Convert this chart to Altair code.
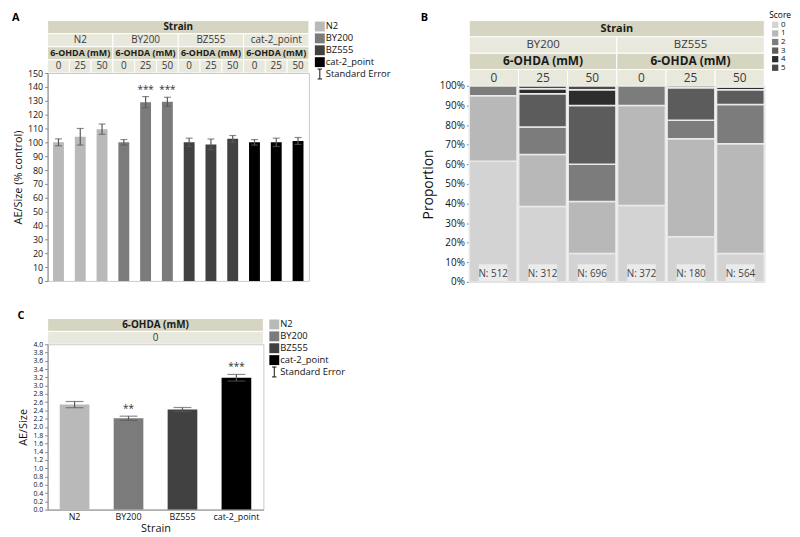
import altair as alt
import pandas as pd

FONT = "Open Sans"
DARK_HDR = "#d5d5c1"
LIGHT_HDR = "#e8e8dd"
ERR = "#5a5a5a"
IPATH = "M-0.45,-1H0.45M0,-1V1M-0.45,1H0.45"

# ---------------- data ----------------
strains = ["N2", "BY200", "BZ555", "cat-2_point"]
doses = ["0", "25", "50"]
strain_colors = ["#b9b9b9", "#7b7b7b", "#414141", "#000000"]

# Panel A: AE/Size (% control)
a_mean = [100, 104, 109.5, 100, 129, 129.3, 100, 98.5, 102.5, 100, 100, 101]
a_se = [2.5, 6, 3.7, 2, 4, 3.2, 3, 3.9, 2.4, 2, 3, 2.5]
a_sig = ["", "", "", "", "***", "***", "", "", "", "", "", ""]
a_ticks = list(range(0, 151, 10))

# Panel B: score proportions (%) for scores 0..5
b_strains = ["BY200", "BZ555"]
scores = ["0", "1", "2", "3", "4", "5"]
score_colors = ["#d3d3d3", "#b8b8b8", "#7c7c7c", "#5c5c5c", "#2d2d2d", "#494949"]
b_by200_0 = [61.5, 33.5, 5.0, 0, 0, 0]
b_by200_25 = [38.5, 26.5, 14.0, 17.0, 2.5, 1.5]
b_by200_50 = [14.5, 26.5, 19.0, 30.0, 8.0, 2.0]
b_bz555_0 = [39.0, 51.0, 10.0, 0, 0, 0]
b_bz555_25 = [23.0, 50.0, 9.5, 16.5, 0.0, 1.0]
b_bz555_50 = [14.5, 56.0, 20.0, 7.5, 1.5, 0.5]
b_n = [512, 312, 696, 372, 180, 564]
b_ticks = [round(i / 10, 1) for i in range(11)]

# Panel C: AE/Size at 0 mM
c_mean = [2.54, 2.21, 2.42, 3.19]
c_se = [0.075, 0.05, 0.05, 0.08]
c_sig = ["", "**", "", "***"]
c_ticks = [round(i * 0.2, 1) for i in range(21)]


# ---------------- helpers ----------------
def header_chart(cells, rows, n, width, height):
    df = pd.DataFrame(cells, columns=["row", "x0", "x1", "label", "bold", "fs", "bg"])
    df["xm"] = (df["x0"] + df["x1"]) / 2
    xs = alt.Scale(domain=[0, n], nice=False, zero=False)
    ys = alt.Scale(domain=rows, paddingInner=0, paddingOuter=0)
    y = alt.Y("row:N", scale=ys, axis=None)
    rect = alt.Chart(df).mark_rect(stroke="white", strokeWidth=1).encode(
        x=alt.X("x0:Q", scale=xs, axis=None), x2="x1:Q", y=y,
        fill=alt.Fill("bg:N", scale=None))
    bold = alt.Chart(df).transform_filter("datum.bold").mark_text(
        fontWeight="bold", color="#1a1a1a", font=FONT).encode(
        x=alt.X("xm:Q", scale=xs, axis=None), y=y, text="label:N",
        size=alt.Size("fs:Q", scale=None))
    norm = alt.Chart(df).transform_filter("!datum.bold").mark_text(
        color="#3a3a3a", font=FONT).encode(
        x=alt.X("xm:Q", scale=xs, axis=None), y=y, text="label:N",
        size=alt.Size("fs:Q", scale=None))
    return alt.layer(rect, bold, norm).properties(width=width, height=height)


def legend_chart(labels, colors, kinds, width, height, fs, sym, title):
    df = pd.DataFrame({"label": labels, "sw": colors, "kind": kinds})
    y = alt.Y("label:N", scale=alt.Scale(domain=labels, paddingInner=0, paddingOuter=0), axis=None)
    sw = alt.Chart(df).transform_filter("datum.kind == 'box'").mark_point(
        shape="square", filled=True, size=sym, opacity=1, strokeWidth=0).encode(
        x=alt.value(6), y=y, fill=alt.Fill("sw:N", scale=None))
    er = alt.Chart(df).transform_filter("datum.kind == 'err'").mark_point(
        shape=IPATH, filled=False, size=sym, color="#111", strokeWidth=1, opacity=1).encode(
        x=alt.value(6), y=y)
    tx = alt.Chart(df).mark_text(align="left", fontSize=fs, font=FONT, color="#111").encode(
        x=alt.value(12), y=y, text="label:N")
    return alt.layer(sw, er, tx).properties(width=width, height=height, title=title)


def panel_title(t):
    return alt.TitleParams(t, anchor="start", frame="bounds", fontSize=11, fontWeight="bold",
                           font=FONT, offset=-3)


def y_axis(title, values, fmt, lfs, tfs):
    return alt.Axis(values=values, tickCount=len(values) + 10, format=fmt, grid=False,
                    labelFontSize=lfs, tickSize=3,
                    labelOverlap=False, labelFlush=False, labelBound=False,
                    title=title, titleFontSize=tfs, titleFontWeight="normal",
                    labelPadding=2, titlePadding=4)


frame = alt.ViewBackground(stroke="#c9c9c9", strokeWidth=1)

# ---------------- Panel A ----------------
keys = [f"{s}|{d}" for s in strains for d in doses]
a_df = pd.DataFrame({
    "key": keys,
    "strain": [s for s in strains for d in doses],
    "mean": a_mean, "se": a_se, "sig": a_sig,
})
a_df["lo"] = a_df["mean"] - a_df["se"]
a_df["hi"] = a_df["mean"] + a_df["se"]

xA = alt.X("key:N", scale=alt.Scale(domain=keys, paddingInner=0.5, paddingOuter=0.25), axis=None)
yAs = alt.Scale(domain=[0, 150], nice=False)
barsA = alt.Chart(a_df).mark_bar().encode(
    x=xA,
    y=alt.Y("mean:Q", scale=yAs, axis=y_axis("AE/Size (% control)", a_ticks, "d", 9, 11)),
    fill=alt.Fill("strain:N", scale=alt.Scale(domain=strains, range=strain_colors), legend=None))
ruleA = alt.Chart(a_df).mark_rule(color=ERR, strokeWidth=1.2).encode(
    x=xA, y=alt.Y("lo:Q", scale=yAs), y2="hi:Q")
capA1 = alt.Chart(a_df).mark_tick(color=ERR, size=7, thickness=1.2).encode(
    x=xA, y=alt.Y("lo:Q", scale=yAs))
capA2 = alt.Chart(a_df).mark_tick(color=ERR, size=7, thickness=1.2).encode(
    x=xA, y=alt.Y("hi:Q", scale=yAs))
sigA = alt.Chart(a_df).mark_text(baseline="bottom", dy=-2, fontSize=10, color="#333").encode(
    x=xA, y=alt.Y("hi:Q", scale=yAs), text="sig:N")
plotA = alt.layer(barsA, ruleA, capA1, capA2, sigA).properties(width=264, height=210, view=frame)

cellsA = [("r0", 0, 12, "Strain", True, 10, DARK_HDR)]
for i, s in enumerate(strains):
    cellsA.append(("r1", 3 * i, 3 * i + 3, s, False, 10, LIGHT_HDR))
    cellsA.append(("r2", 3 * i, 3 * i + 3, "6-OHDA (mM)", True, 9, DARK_HDR))
    for j, d in enumerate(doses):
        cellsA.append(("r3", 3 * i + j, 3 * i + j + 1, d, False, 10, LIGHT_HDR))
headerA = header_chart(cellsA, ["r0", "r1", "r2", "r3"], 12, 264, 53)

colA = alt.vconcat(headerA, plotA, spacing=0, bounds="flush", title=panel_title("A"))
legA = legend_chart(strains + ["Standard Error"], strain_colors + ["#000"],
                    ["box"] * 4 + ["err"], 70, 60, 9.5, 100,
                    alt.TitleParams(" ", fontSize=11, offset=-3))
panelA = alt.hconcat(colA, legA, spacing=4)

# ---------------- Panel B ----------------
b_keys = [f"{s}|{d}" for s in b_strains for d in doses]
b_rows = []
for key, vals in zip(b_keys, [b_by200_0, b_by200_25, b_by200_50, b_bz555_0, b_bz555_25, b_bz555_50]):
    for sc, v in zip(scores, vals):
        if v > 0:
            b_rows.append({"key": key, "score": sc, "ord": int(sc), "prop": v / 100})
b_df = pd.DataFrame(b_rows)
n_df = pd.DataFrame({"key": b_keys, "n": b_n})

xB = alt.X("key:N", scale=alt.Scale(domain=b_keys, paddingInner=0.035, paddingOuter=0.0), axis=None)
yBs = alt.Scale(domain=[0, 1], nice=False)
stackB = alt.Chart(b_df).mark_bar(stroke="#e9e9e9", strokeWidth=1.5).encode(
    x=xB,
    y=alt.Y("prop:Q", stack="zero", scale=yBs, axis=y_axis("Proportion", b_ticks, ".0%", 10, 14)),
    color=alt.Color("score:N", scale=alt.Scale(domain=scores, range=score_colors), legend=None),
    order=alt.Order("ord:Q", sort="ascending"))
boxB = alt.Chart(n_df).transform_calculate(b0="0.004", b1="0.09").mark_bar(
    width={"band": 0.6}, color="#ebebeb").encode(
    x=xB, y=alt.Y("b0:Q", scale=yBs), y2="b1:Q")
textB = alt.Chart(n_df).transform_calculate(ty="0.04", lab="'N: ' + datum.n").mark_text(
    fontSize=10, color="#444", font=FONT).encode(
    x=xB, y=alt.Y("ty:Q", scale=yBs), text="lab:N")
plotB = alt.layer(stackB, boxB, textB).properties(width=298, height=198, view=frame)

cellsB = [("r0", 0, 6, "Strain", True, 11, DARK_HDR)]
for i, s in enumerate(b_strains):
    cellsB.append(("r1", 3 * i, 3 * i + 3, s, False, 11.5, LIGHT_HDR))
    cellsB.append(("r2", 3 * i, 3 * i + 3, "6-OHDA (mM)", True, 12, DARK_HDR))
    for j, d in enumerate(doses):
        cellsB.append(("r3", 3 * i + j, 3 * i + j + 1, d, False, 12, LIGHT_HDR))
headerB = header_chart(cellsB, ["r0", "r1", "r2", "r3"], 6, 298, 66)

colB = alt.vconcat(headerB, plotB, spacing=0, bounds="flush", title=panel_title("B"))
legB = legend_chart(scores, score_colors, ["box"] * 6, 18, 52, 8, 40,
                    alt.TitleParams("Score", fontSize=8.5, fontWeight="normal", font=FONT,
                                    anchor="start", offset=1))
panelB = alt.hconcat(colB, legB, spacing=3)

# ---------------- Panel C ----------------
c_df = pd.DataFrame({"strain": strains, "mean": c_mean, "se": c_se, "sig": c_sig})
c_df["lo"] = c_df["mean"] - c_df["se"]
c_df["hi"] = c_df["mean"] + c_df["se"]
xC = alt.X("strain:N", scale=alt.Scale(domain=strains, paddingInner=0.45, paddingOuter=0.225),
           axis=alt.Axis(title="Strain", labelAngle=0, ticks=False, labelFontSize=9,
                         titleFontSize=11, titleFontWeight="normal", labelPadding=3,
                         titlePadding=1))
xC2 = alt.X("strain:N", scale=alt.Scale(domain=strains, paddingInner=0.45, paddingOuter=0.225))
yCs = alt.Scale(domain=[0, 4], nice=False)
barsC = alt.Chart(c_df).mark_bar().encode(
    x=xC,
    y=alt.Y("mean:Q", scale=yCs, axis=y_axis("AE/Size", c_ticks, ".1f", 7, 11)),
    fill=alt.Fill("strain:N", scale=alt.Scale(domain=strains, range=strain_colors), legend=None))
ruleC = alt.Chart(c_df).mark_rule(color=ERR, strokeWidth=1.2).encode(
    x=xC2, y=alt.Y("lo:Q", scale=yCs), y2="hi:Q")
capC1 = alt.Chart(c_df).mark_tick(color=ERR, size=18, thickness=1.2).encode(
    x=xC2, y=alt.Y("lo:Q", scale=yCs))
capC2 = alt.Chart(c_df).mark_tick(color=ERR, size=18, thickness=1.2).encode(
    x=xC2, y=alt.Y("hi:Q", scale=yCs))
sigC = alt.Chart(c_df).mark_text(baseline="bottom", dy=-2, fontSize=10, color="#333").encode(
    x=xC2, y=alt.Y("hi:Q", scale=yCs), text="sig:N")
plotC = alt.layer(barsC, ruleC, capC1, capC2, sigC).properties(width=218, height=167, view=frame)

cellsC = [("r0", 0, 1, "6-OHDA (mM)", True, 10, DARK_HDR),
          ("r1", 0, 1, "0", False, 10, LIGHT_HDR)]
headerC = header_chart(cellsC, ["r0", "r1"], 1, 218, 26)

colC = alt.vconcat(headerC, plotC, spacing=0, bounds="flush", title=panel_title("C"))
legC = legend_chart(strains + ["Standard Error"], strain_colors + ["#000"],
                    ["box"] * 4 + ["err"], 70, 60, 9.5, 100,
                    alt.TitleParams(" ", fontSize=11, offset=-3))
panelC = alt.hconcat(colC, legC, spacing=4)

row1 = alt.hconcat(panelA, panelB, spacing=30)
chart = alt.vconcat(row1, panelC, spacing=22).properties(
    padding={"left": 4, "top": 0, "right": 0, "bottom": 0}
).configure(font=FONT, background="white").configure_view(strokeWidth=0).configure_axis(
    labelFont=FONT, titleFont=FONT, labelColor="#111", titleColor="#111",
    domainColor="#8a8a8a", tickColor="#8a8a8a", labelOverlap=False
).configure_title(font=FONT)

chart.save("out.html", embed_options={"renderer": "svg", "actions": False})
